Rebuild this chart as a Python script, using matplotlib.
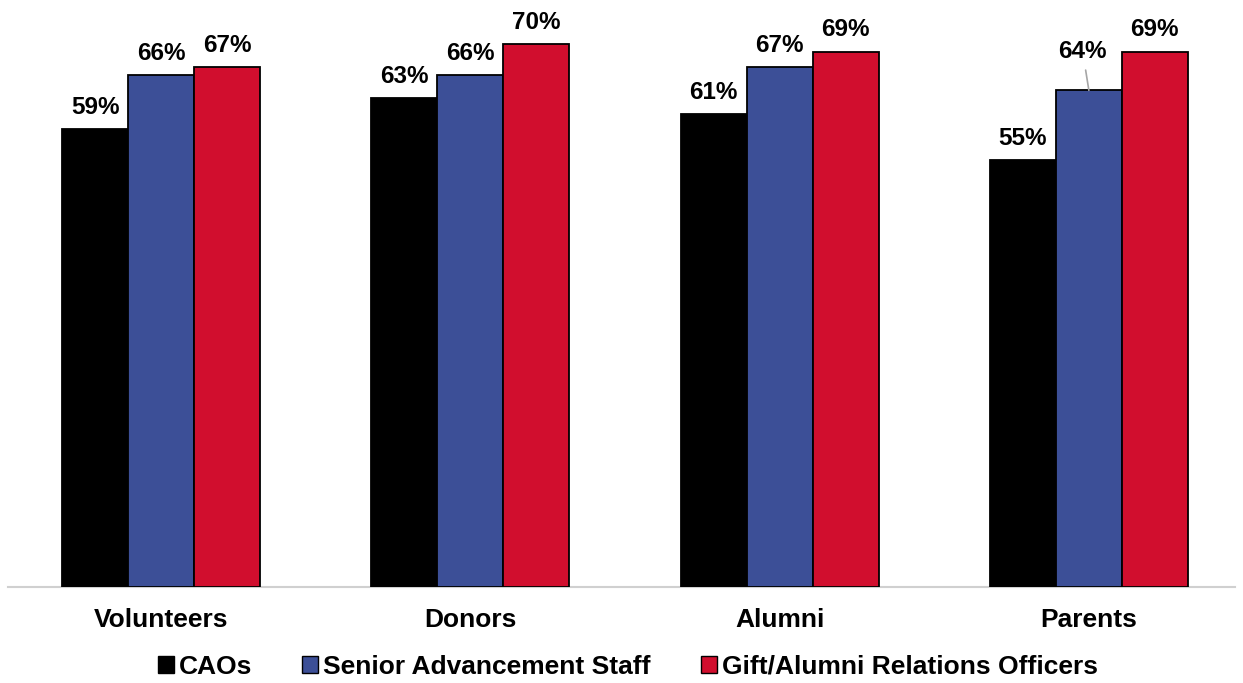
import matplotlib
matplotlib.use("Agg")
import matplotlib.pyplot as plt
import numpy as np
from matplotlib.patches import Patch

categories = ["Volunteers", "Donors", "Alumni", "Parents"]
series_names = ["CAOs", "Senior Advancement Staff", "Gift/Alumni Relations Officers"]
caos = [59, 63, 61, 55]
senior_staff = [66, 66, 67, 64]
gift_officers = [67, 70, 69, 69]
colors = ["#000000", "#3C4F97", "#D10E2E"]

plt.rcParams["font.family"] = ["Liberation Sans", "DejaVu Sans"]

W, H = 1243, 683
fig = plt.figure(figsize=(W / 100, H / 100), dpi=100)
ax_left, ax_right = 6.5, 1243.5
ax = fig.add_axes([ax_left / W, 1 - 587 / H, (ax_right - ax_left) / W, 582 / H])

x = np.arange(len(categories))
width = 0.2134
all_series = [caos, senior_staff, gift_officers]
for i, (vals, col) in enumerate(zip(all_series, colors)):
    pos = x + (i - 1) * width
    ax.bar(pos, vals, width=width, color=col, edgecolor="black", linewidth=1.3,
           zorder=3)
    for j, (p, v) in enumerate(zip(pos, vals)):
        if i == 1 and categories[j] == "Parents":
            ax.annotate(f"{v}%", xy=(p, v), xytext=(p - 0.02, v + 3.5),
                        ha="center", va="bottom", fontsize=17.5, fontweight="bold",
                        arrowprops=dict(arrowstyle="-", color="#A6A6A6", lw=1.2,
                                        shrinkA=3, shrinkB=0))
        else:
            ax.text(p, v + 1.3, f"{v}%", ha="center", va="bottom",
                    fontsize=17.5, fontweight="bold")

ax.set_xlim(-0.5, len(categories) - 0.5)
ax.set_ylim(0, 75)
for s in ["top", "right", "left", "bottom"]:
    ax.spines[s].set_visible(False)
# light baseline under the bars
x0 = (8 - ax_left) / (ax_right - ax_left)
x1 = (1235 - ax_left) / (ax_right - ax_left)
ax.axhline(0, xmin=x0, xmax=x1, color="#D0D0D0", lw=1.5, zorder=2, clip_on=False)
ax.set_yticks([])
ax.set_xticks(x)
ax.set_xticklabels(categories, fontsize=19, fontweight="bold")
ax.tick_params(axis="x", length=0, pad=15)

handles = [Patch(facecolor=c, edgecolor="black", linewidth=1.0) for c in colors]
fig.legend(handles, series_names, loc="center", bbox_to_anchor=(628 / W, 1 - 667 / H),
           ncol=3, frameon=False, handlelength=0.6, handleheight=0.6,
           handletextpad=0.2, columnspacing=1.9, prop={"weight": "bold", "size": 19})

fig.savefig("out.png", dpi=100)
